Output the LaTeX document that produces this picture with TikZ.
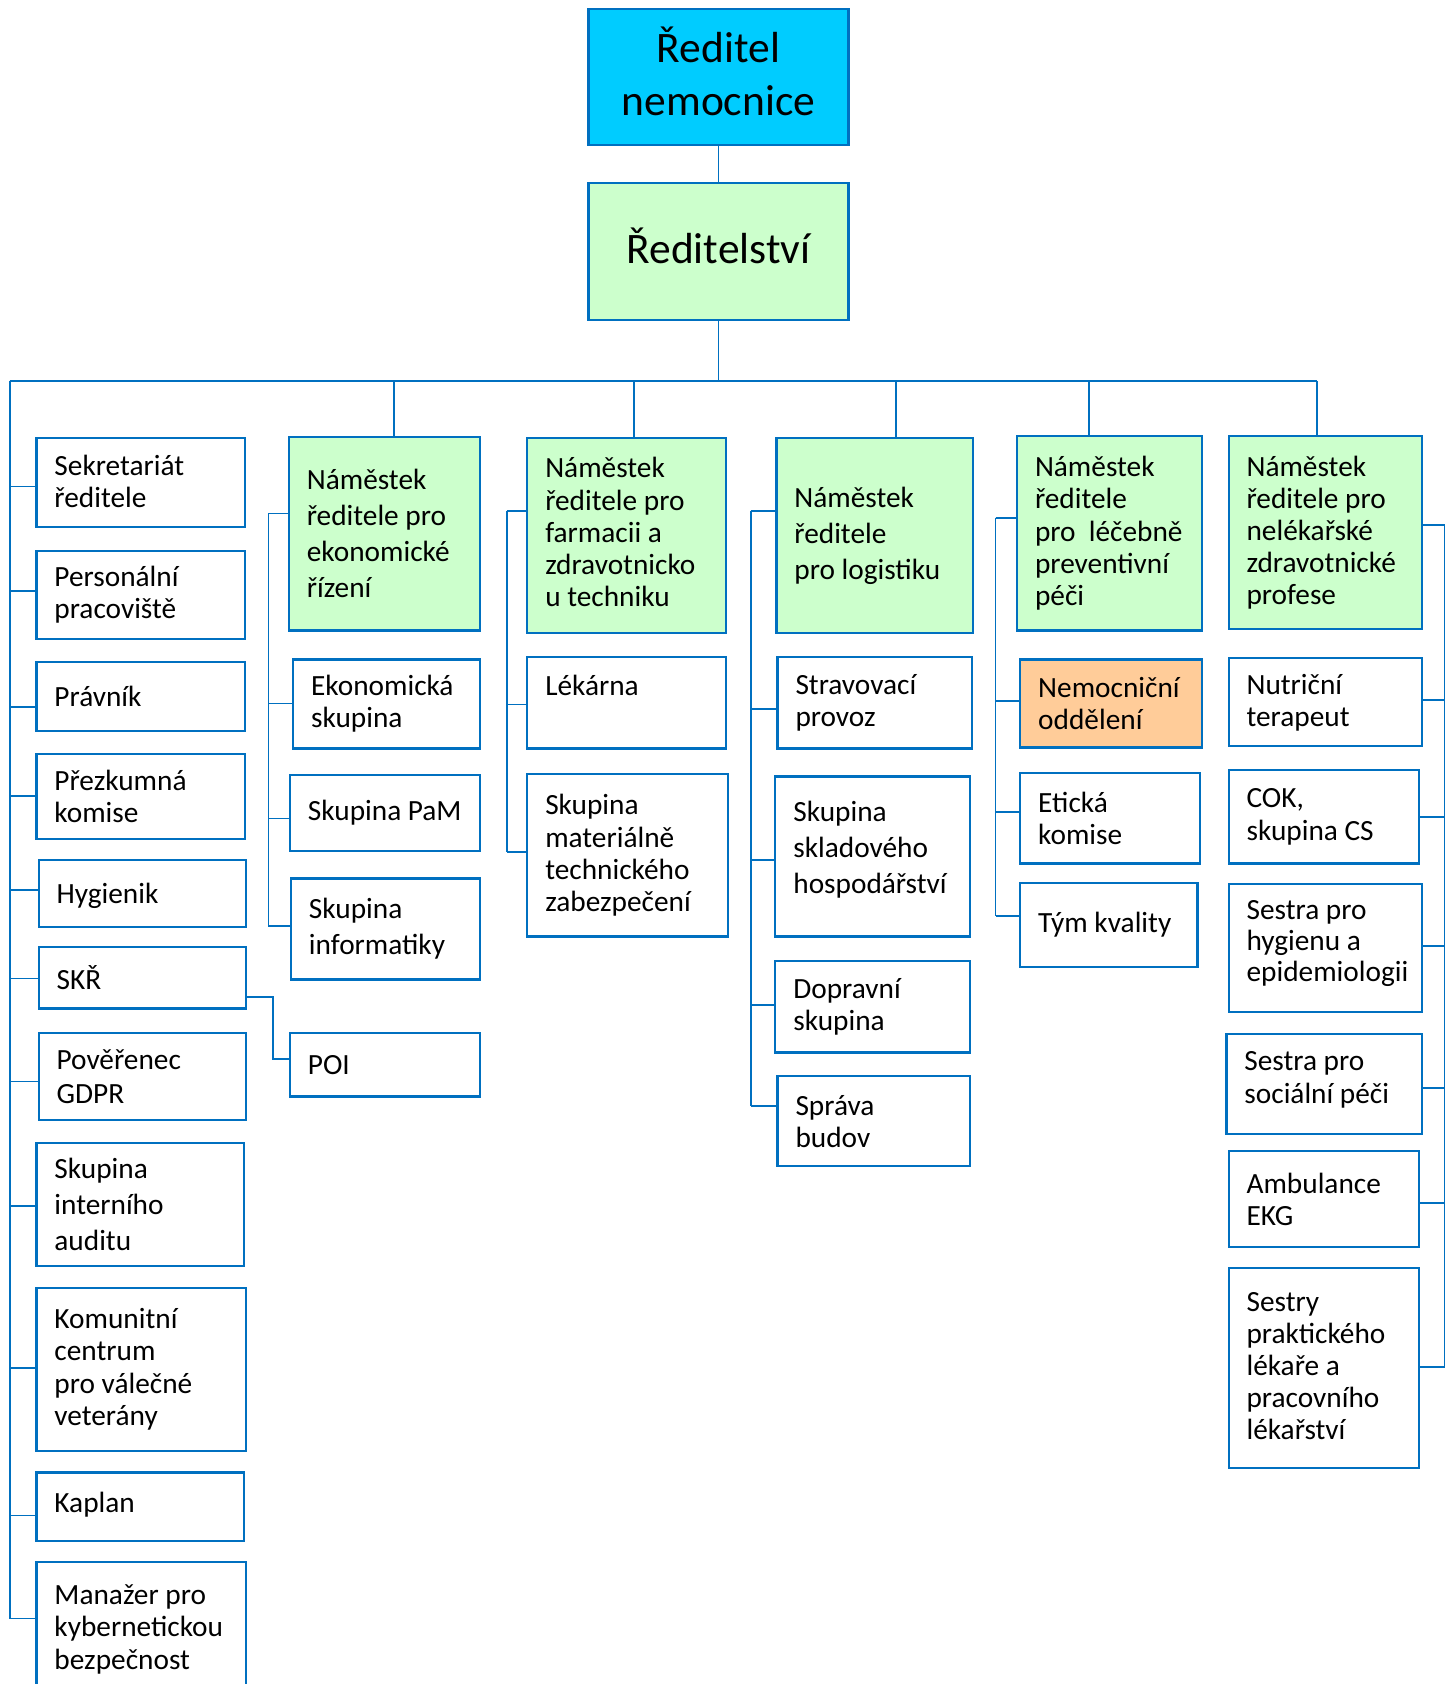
\documentclass[tikz,border=0pt]{standalone}
\usepackage{fontspec}
\setmainfont{Carlito}
\definecolor{bl}{HTML}{0070C0}
\definecolor{cy}{HTML}{00CCFF}
\definecolor{gr}{HTML}{CCFFCC}
\definecolor{orf}{HTML}{FFCC99}
\tikzset{
 box/.style={draw=bl, line width=2pt, inner sep=0pt, rectangle},
 grbox/.style={box, fill=gr},
 orbox/.style={box, fill=orf},
 wbox/.style={box, fill=white},
 txt/.style={inner sep=0pt, align=left, font=\fontsize{27.3}{30}\selectfont, anchor=west},
 wide/.style={font=\fontsize{27.3}{33.5}\selectfont},
 gap/.style={font=\fontsize{27.3}{32}\selectfont},
 tight/.style={font=\fontsize{27.3}{28.5}\selectfont},
 conn/.style={draw=bl, line width=1.6pt},
 big/.style={inner sep=0pt, align=center, font=\fontsize{40.5}{50}\selectfont},
}
\newcommand\bx[8]{%
 \node[#6, minimum width={(#4-#2)*1pt}, minimum height={(#5-#3)*1pt}] (#1) at ({(#2+#4)/2},{(#3+#5)/2}) {};
 \node[txt,#7] (#1-t) at ([xshift=17.5pt]#1.west) {#8};}
\newcommand\stubL[3]{\coordinate (#1-c) at (#2,#3); \draw[conn] (#1-c) -- (#1-c -| #1.west);}
\newcommand\stubR[3]{\coordinate (#1-c) at (#2,#3); \draw[conn] (#1-c) -- (#1-c -| #1.east);}
\begin{document}
\begin{tikzpicture}[x=1pt,y=-1pt]
\useasboundingbox[fill=white] (0,0) rectangle (1354,1568);
% top
\node[box, fill=cy, minimum width=242pt, minimum height=127pt] (red) at (669,71.5) {};
\node[big] (red-t) at ([yshift=5pt]red.center) {Ředitel\\nemocnice};
\node[box, fill=gr, minimum width=242pt, minimum height=128pt] (dir) at (669,234) {};
\node[big] (dir-t) at ([yshift=5pt]dir.center) {Ředitelství};
% left column
\bx{sek}{34}{408}{228}{491}{wbox}{yshift=1pt}{Sekretariát\\ředitele}
\bx{per}{34}{513}{228}{595}{wbox}{}{Personální\\pracoviště}
\bx{pra}{34}{616}{228}{681}{wbox}{}{Právník}
\bx{pre}{34}{702}{228}{781}{wbox}{}{Přezkumná\\komise}
\bx{hyg}{36}{801}{229}{863}{wbox}{yshift=-2pt}{Hygienik}
\bx{skr}{36}{882}{229}{939}{wbox}{}{SKŘ}
\bx{gdpr}{36}{962}{229}{1043}{wbox}{gap}{Pověřenec\\GDPR}
\bx{aud}{34}{1064}{227}{1179}{wbox}{wide}{Skupina\\interního\\auditu}
\bx{kom}{34}{1199}{229}{1351}{wbox}{}{Komunitní\\centrum\\pro válečné\\veterány}
\bx{kap}{34}{1371}{227}{1435}{wbox}{yshift=2pt}{Kaplan}
\bx{man}{34}{1454}{229}{1580}{wbox}{}{Manažer pro\\kybernetickou\\bezpečnost}
% column 2
\bx{n1}{269}{407}{447}{587}{grbox}{wide}{Náměstek\\ředitele pro\\ekonomické\\řízení}
\bx{eko}{273}{614}{447}{697}{wbox}{}{Ekonomická\\skupina}
\bx{pam}{270}{722}{447}{792}{wbox}{}{Skupina PaM}
\bx{inf}{271}{818}{447}{912}{wbox}{wide}{Skupina\\informatiky}
\bx{poi}{270}{962}{447}{1021}{wbox}{}{POI}
% column 3
\bx{n2}{491}{408}{676}{589}{grbox}{yshift=3pt}{Náměstek\\ředitele pro\\farmacii a\\zdravotnicko\\u techniku}
\bx{lek}{491}{612}{676}{697}{wbox}{yshift=16pt}{Lékárna}
\bx{mat}{491}{721}{678}{872}{wbox}{}{Skupina\\materiálně\\technického\\zabezpečení}
% column 4
\bx{n3}{723}{408}{906}{589}{grbox}{wide}{Náměstek\\ředitele\\pro logistiku}
\bx{str}{724}{612}{905}{697}{wbox}{}{Stravovací\\provoz}
\bx{skl}{722}{723}{903}{872}{wbox}{wide,yshift=6pt}{Skupina\\skladového\\hospodářství}
\bx{dop}{722}{895}{903}{980}{wbox}{}{Dopravní\\skupina}
\bx{spr}{724}{1002}{903}{1086}{wbox}{}{Správa\\budov}
% column 5
\bx{n4}{947}{406}{1119}{587}{grbox}{}{Náměstek\\ředitele\\pro\ \ léčebně\\preventivní\\péči}
\bx{nem}{950}{614}{1119}{696}{orbox}{}{Nemocniční\\oddělení}
\bx{eti}{950}{720}{1117}{804}{wbox}{}{Etická\\komise}
\bx{tym}{950}{822}{1115}{900}{wbox}{}{Tým kvality}
% column 6
\bx{n5}{1144}{406}{1324}{586}{grbox}{}{Náměstek\\ředitele pro\\nelékařské\\zdravotnické\\profese}
\bx{nut}{1144}{613}{1324}{695}{wbox}{}{Nutriční\\terapeut}
\bx{cok}{1144}{717}{1321}{804}{wbox}{}{COK,\\skupina CS}
\bx{ses1}{1144}{823}{1324}{942}{wbox}{tight,yshift=4pt}{Sestra pro\\hygienu a\\epidemiologii}
\bx{ses2}{1142}{963}{1324}{1056}{wbox}{yshift=4pt}{Sestra pro\\sociální péči}
\bx{ekg}{1144}{1072}{1321}{1161}{wbox}{}{Ambulance\\EKG}
\bx{prl}{1144}{1181}{1321}{1367}{wbox}{yshift=2pt}{Sestry\\praktického\\lékaře a\\pracovního\\lékařství}
% connectors top
\draw[conn] (red.south) -- (dir.north);
\coordinate (busL) at (9,355);
\coordinate (busR) at (1226,355);
\draw[conn] (dir.south) -- (dir.south |- busL);
\draw[conn] (busL) -- (busR);
\draw[conn] (busR) -- (busR |- n5.north);
\coordinate (d1) at (367,355); \draw[conn] (d1) -- (d1 |- n1.north);
\coordinate (d2) at (590,355); \draw[conn] (d2) -- (d2 |- n2.north);
\coordinate (d3) at (834,355); \draw[conn] (d3) -- (d3 |- n3.north);
\coordinate (d4) at (1014,355); \draw[conn] (d4) -- (d4 |- n4.north);
% left spine
\stubL{sek}{9}{453}\stubL{per}{9}{550}\stubL{pra}{9}{658}\stubL{pre}{9}{741}
\stubL{hyg}{9}{829}\stubL{skr}{9}{911}\stubL{gdpr}{9}{1007}\stubL{aud}{9}{1123}
\stubL{kom}{9}{1274}\stubL{kap}{9}{1411}\stubL{man}{9}{1507}
\draw[conn] (busL) -- (man-c);
% SKR - POI
\coordinate (skrp) at (254,928);
\coordinate (poip) at (254,986);
\draw[conn] (skrp -| skr.east) -- (skrp) -- (poip) -- (poip -| poi.west);
% column 2
\stubL{n1}{250}{478}\stubL{eko}{250}{655}\stubL{pam}{250}{762}\stubL{inf}{250}{862}
\draw[conn] (n1-c) -- (inf-c);
% column 3
\stubL{n2}{472}{476}\stubL{lek}{472}{656}\stubL{mat}{472}{793}
\draw[conn] (n2-c) -- (mat-c);
% column 4
\stubL{n3}{699}{476}\stubL{str}{699}{660}\stubL{skl}{699}{801}\stubL{dop}{699}{936}\stubL{spr}{699}{1030}
\draw[conn] (n3-c) -- (spr-c);
% column 5
\stubL{n4}{927}{482}\stubL{nem}{927}{653}\stubL{eti}{927}{756}\stubL{tym}{927}{853}
\draw[conn] (n4-c) -- (tym-c);
% column 6
\stubR{n5}{1345}{489}\stubR{nut}{1345}{652}\stubR{cok}{1345}{761}\stubR{ses1}{1345}{881}
\stubR{ses2}{1345}{1013}\stubR{ekg}{1345}{1120}\stubR{prl}{1345}{1273}
\draw[conn] (n5-c) -- (prl-c);
\end{tikzpicture}
\end{document}
